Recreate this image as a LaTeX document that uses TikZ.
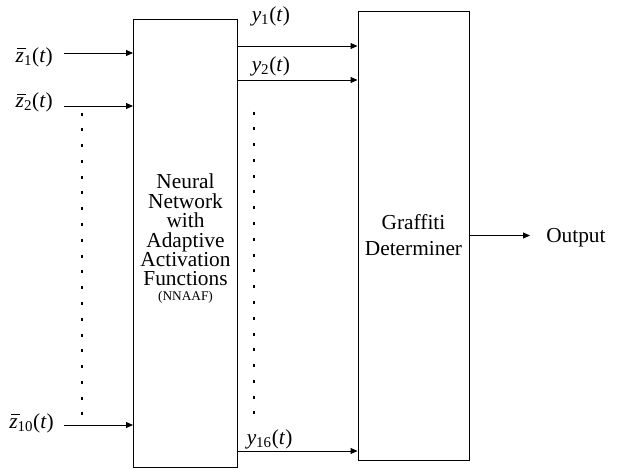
\documentclass[tikz,border=0pt]{standalone}
\usepackage{fontspec}
\setmainfont{Liberation Serif}
\usetikzlibrary{arrows.meta}
\newcommand\zbar{\makebox[0pt][l]{\hspace{0.07em}\raisebox{0.6em}{\rule{0.42em}{0.05em}}}\textit{z}}
\begin{document}
\begin{tikzpicture}[x=0.75pt,y=-0.75pt,
  box/.style={draw, line width=0.75pt, inner sep=0pt},
  arr/.style={-{Triangle[length=5.25pt,width=4.5pt]}, line width=0.75pt},
  lbl/.style={inner sep=0pt, font=\fontsize{16}{19}\selectfont},
  dotcol/.style={line width=1.6pt, dash pattern=on 2.25pt off 9.59pt}]
\useasboundingbox (0,0) rectangle (618,469);
% boxes
\node[box, minimum width=78pt, minimum height=336pt] (nn) at (185.5,243) {};
\node[box, minimum width=83.25pt, minimum height=336.75pt, align=center,
      font=\fontsize{16}{19.5}\selectfont] (gd) at (413.5,235.5) {Graffiti\\Determiner};
\node[lbl, align=center, font=\fontsize{16}{14.6}\selectfont] (nnt) at (185.5,230)
  {Neural\\Network\\with\\Adaptive\\Activation\\Functions};
\node[lbl, anchor=base, font=\fontsize{10}{12}\selectfont] (nnabbr) at (185.5,300) {(NNAAF)};
% input labels
\node[lbl, anchor=base east] (z1) at (53,62) {\zbar\textsubscript{1}(\textit{t})};
\node[lbl, anchor=base east] (z2) at (53,107.5) {\zbar\textsubscript{2}(\textit{t})};
\node[lbl, anchor=base east] (z10) at (54,428) {\zbar\textsubscript{10}(\textit{t})};
% output labels
\node[lbl, anchor=base west] (y1) at (251.5,21.5) {\textit{y}\textsubscript{1}(\textit{t})};
\node[lbl, anchor=base west] (y2) at (251.5,71) {\textit{y}\textsubscript{2}(\textit{t})};
\node[lbl, anchor=base west] (y16) at (246.5,444) {\textit{y}\textsubscript{16}(\textit{t})};
% input arrows
\coordinate (i1) at (64,53);
\coordinate (i2) at (64,106);
\coordinate (i10) at (64,425);
\foreach \c in {i1,i2,i10} \draw[arr] (\c) -- (\c -| nn.west);
% output arrows
\coordinate (o1) at (300,46);
\coordinate (o2) at (300,80);
\coordinate (o16) at (300,451);
\foreach \c in {o1,o2,o16} \draw[arr] (\c -| nn.east) -- (\c -| gd.west);
% dotted continuation
\draw[dotcol] (81.7,112.5) -- (81.7,416);
\draw[dotcol] (254.3,111.5) -- (254.3,415);
% final output
\node[lbl, anchor=west] (out) at (546,238) {Output};
\coordinate (oe) at (530,235.5);
\draw[arr] (gd.east) -- (oe);
\end{tikzpicture}
\end{document}
